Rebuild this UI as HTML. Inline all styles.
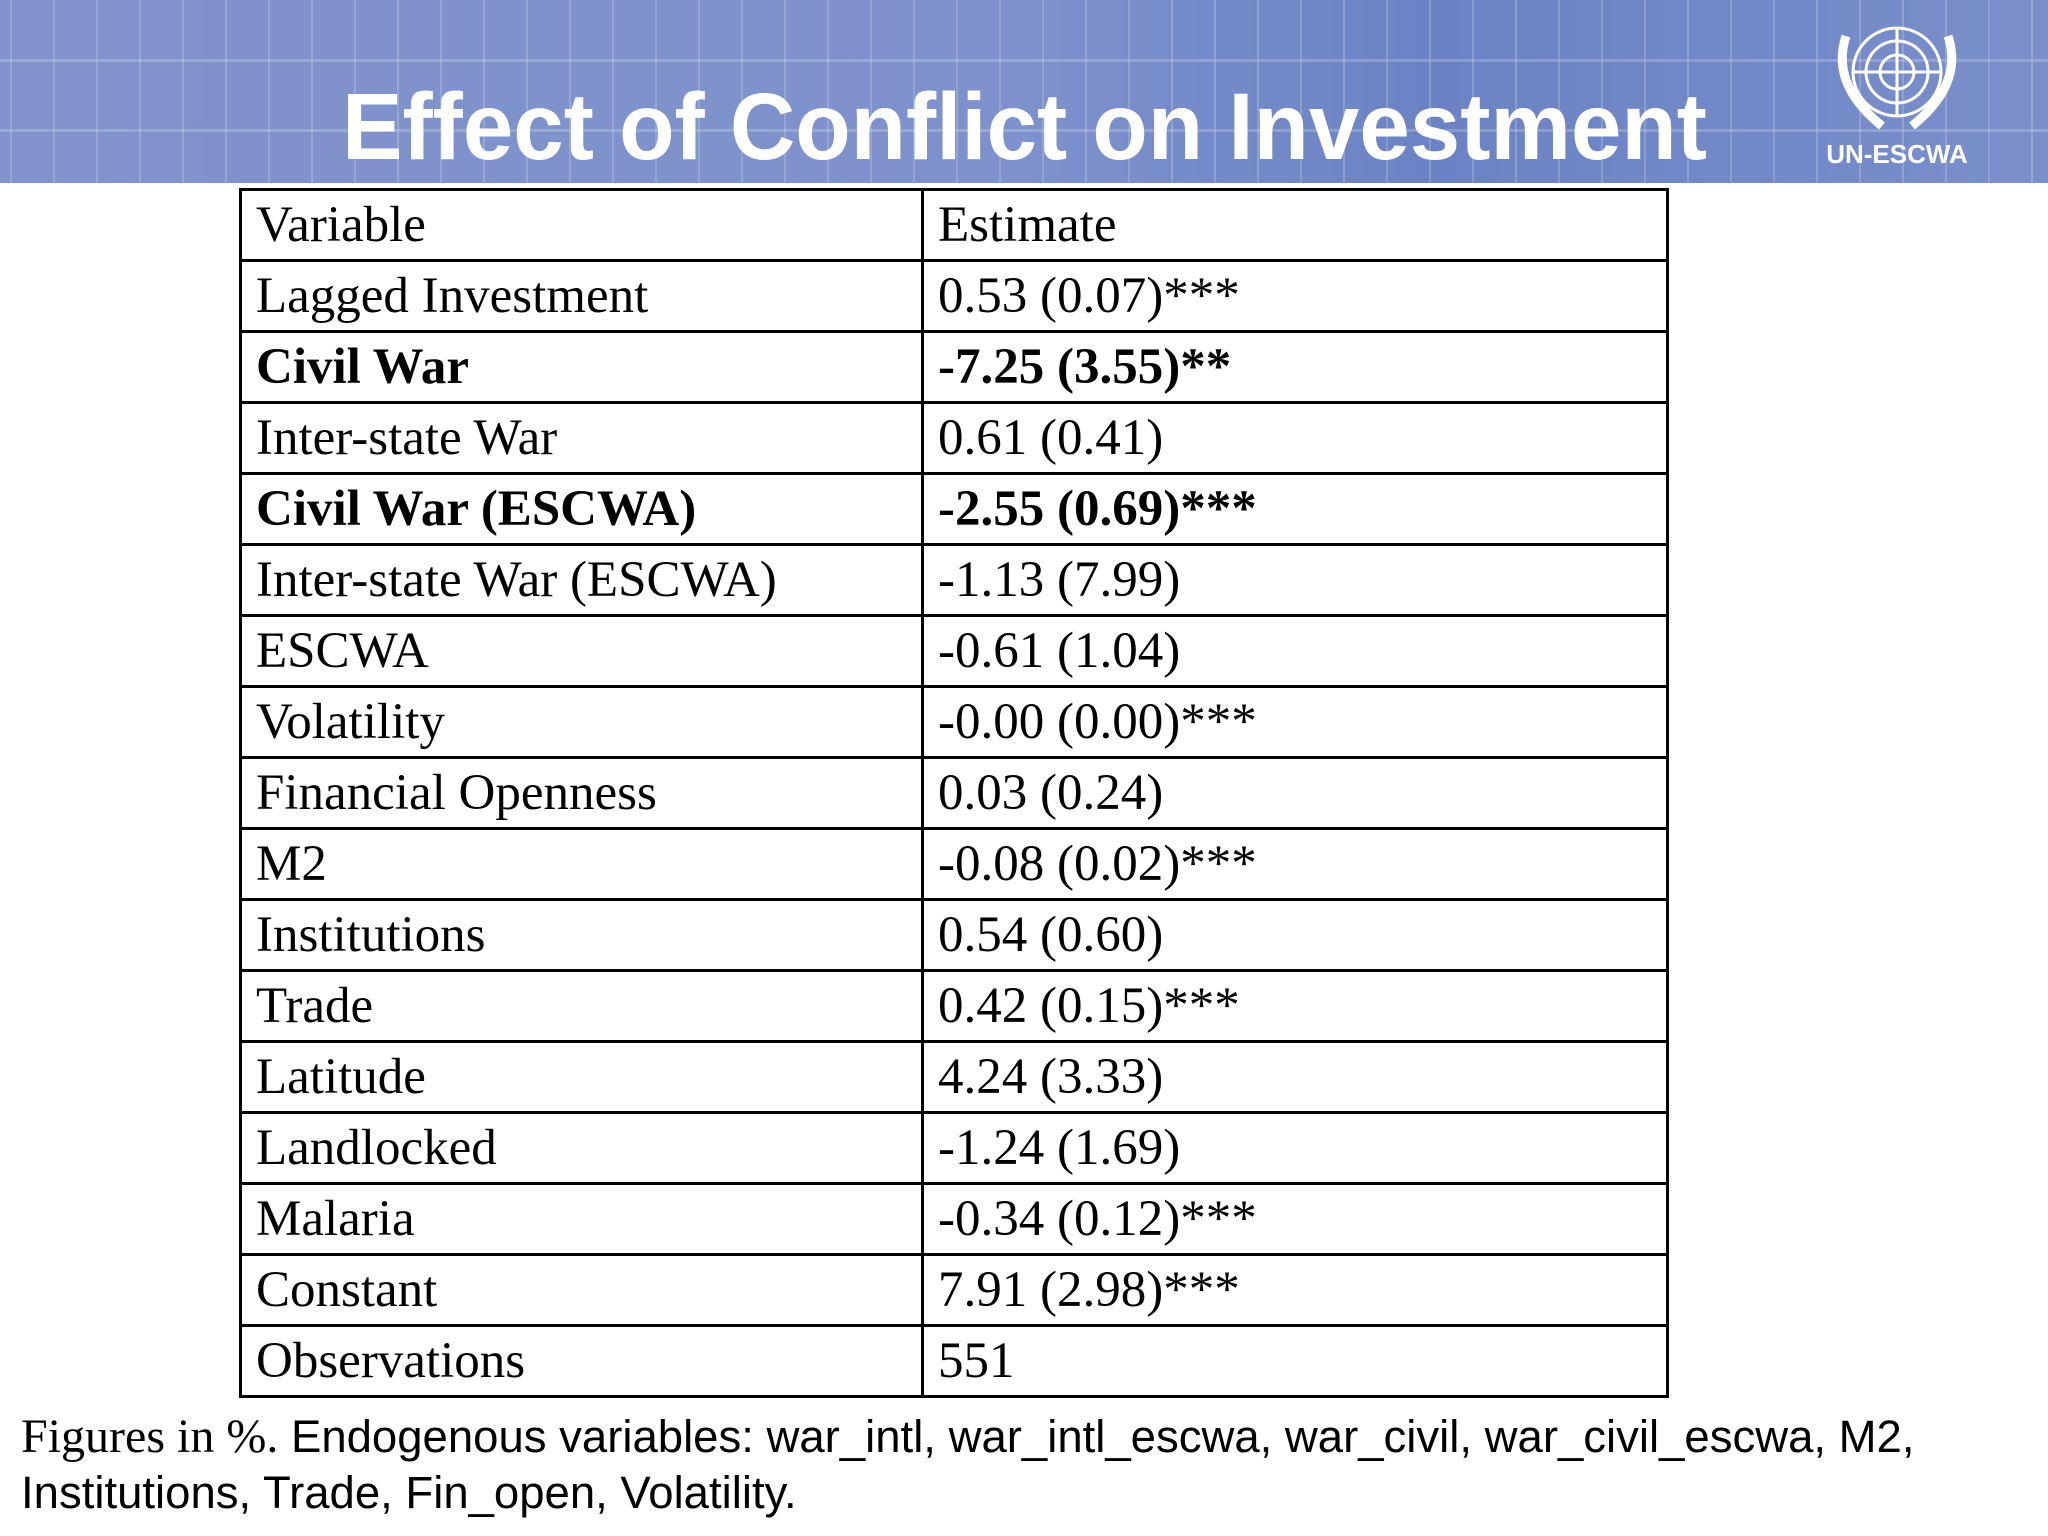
<!DOCTYPE html>
<html><head><meta charset="utf-8"><style>
html,body{margin:0;padding:0;background:#fff}
body{width:2048px;height:1536px;position:relative;overflow:hidden}
.hdr{position:absolute;left:0;top:0;width:2048px;height:183px;background:linear-gradient(90deg,#8093cc 0%,#7d91cc 50%,#6b82c4 70%,#7a8fca 100%)}
.grid{position:absolute;left:0;top:0;width:2048px;height:183px;background-image:linear-gradient(90deg,rgba(255,255,255,.18) 2px,transparent 2px),linear-gradient(0deg,rgba(255,255,255,.2) 3px,transparent 3px);background-size:43px 183px,2048px 70px;background-position:10px 0,0 -8px}
table{position:absolute;left:239px;top:188px;width:1430px;border-collapse:collapse;font-family:"Liberation Serif",serif;font-size:51px;color:#000}
td{border:3px solid #000;height:68px;padding:0 0 0 14px;line-height:67px;white-space:nowrap}
td.c1{width:665px}
tr.b td{font-weight:bold}
.foot{position:absolute;left:21px;top:1409px;font-family:"Liberation Sans",sans-serif;font-size:45.5px;line-height:56px;color:#000}
.foot .s{font-family:"Liberation Serif",serif;font-size:48px}
</style></head><body>
<div class="hdr"><div class="grid"></div></div>
<svg style="position:absolute;left:0;top:0" width="2048" height="183">
<text x="342" y="159" textLength="1365" lengthAdjust="spacingAndGlyphs" font-family="Liberation Sans, sans-serif" font-weight="bold" font-size="95" fill="#fff">Effect of Conflict on Investment</text>
<g fill="none" stroke="#fff" stroke-width="3">
<circle cx="1897" cy="72" r="44"/><circle cx="1897" cy="72" r="31"/><circle cx="1897" cy="72" r="17"/>
<line x1="1853" y1="72" x2="1941" y2="72"/><line x1="1897" y1="28" x2="1897" y2="116"/>
<path d="M1846 36 Q1830 84 1882 126 M1948 36 Q1964 84 1912 126" stroke-width="9"/>
<text x="1897" y="163" text-anchor="middle" stroke="none" fill="#fff" font-family="Liberation Sans, sans-serif" font-weight="bold" font-size="26">UN-ESCWA</text>
</g>
</svg>
<table>
<tr><td class="c1">Variable</td><td>Estimate</td></tr>
<tr><td class="c1">Lagged Investment</td><td>0.53 (0.07)***</td></tr>
<tr class="b"><td class="c1">Civil War</td><td>-7.25 (3.55)**</td></tr>
<tr><td class="c1">Inter-state War</td><td>0.61 (0.41)</td></tr>
<tr class="b"><td class="c1">Civil War (ESCWA)</td><td>-2.55 (0.69)***</td></tr>
<tr><td class="c1">Inter-state War (ESCWA)</td><td>-1.13 (7.99)</td></tr>
<tr><td class="c1">ESCWA</td><td>-0.61 (1.04)</td></tr>
<tr><td class="c1">Volatility</td><td>-0.00 (0.00)***</td></tr>
<tr><td class="c1">Financial Openness</td><td>0.03 (0.24)</td></tr>
<tr><td class="c1">M2</td><td>-0.08 (0.02)***</td></tr>
<tr><td class="c1">Institutions</td><td>0.54 (0.60)</td></tr>
<tr><td class="c1">Trade</td><td>0.42 (0.15)***</td></tr>
<tr><td class="c1">Latitude</td><td>4.24 (3.33)</td></tr>
<tr><td class="c1">Landlocked</td><td>-1.24 (1.69)</td></tr>
<tr><td class="c1">Malaria</td><td>-0.34 (0.12)***</td></tr>
<tr><td class="c1">Constant</td><td>7.91 (2.98)***</td></tr>
<tr><td class="c1">Observations</td><td>551</td></tr>
</table>
<div class="foot"><span class="s">Figures in %.</span> Endogenous variables: war_intl, war_intl_escwa, war_civil, war_civil_escwa, M2,<br>Institutions, Trade, Fin_open, Volatility.</div>
</body></html>
